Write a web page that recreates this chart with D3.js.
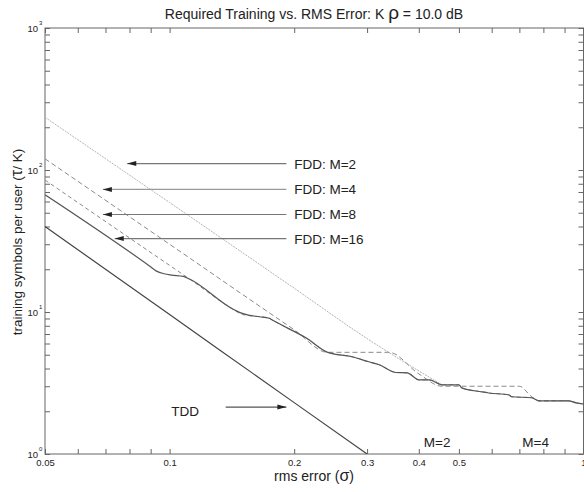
<!DOCTYPE html>
<html><head><meta charset="utf-8">
<script src="https://cdn.jsdelivr.net/npm/d3@7"></script>
<style>
body{margin:0;background:#fff}
svg text{font-family:"Liberation Sans",Arial,Helvetica,sans-serif;fill:#222}
</style>
</head><body><svg id="c" width="584" height="492"></svg>
<script>
// ---------- data (rms error sigma, training symbols per user) ----------
const xDomain = [0.05, 1];
const yDomain = [1, 1000];
const xLabelValues = [0.05, 0.1, 0.2, 0.3, 0.4, 0.5, 1];
const xLabelTexts = ["0.05", "0.1", "0.2", "0.3", "0.4", "0.5", "1"];
const yLabelValues = [1, 10, 100, 1000];
const yLabelExps = ["0", "1", "2", "3"];

const sigmaTDD = [0.05, 0.1, 0.2, 0.3];
const valTDD = [40, 9.6, 2.3, 1.0];

const sigmaM2 = [0.05, 0.1, 0.2, 0.3, 0.455];
const valM2 = [235, 59, 14.7, 6.5, 3.07];

const sigmaM4 = [0.05, 0.1, 0.2, 0.241, 0.339, 0.4, 0.455, 0.70, 0.75, 0.78, 0.92, 0.96, 1.0];
const valM4 = [120, 30, 7.5, 5.2, 5.2, 3.67, 3.0, 3.0, 2.53, 2.37, 2.37, 2.29, 2.25];

const sigmaM8 = [0.05, 0.1, 0.112, 0.142, 0.150, 0.165, 0.174, 0.178, 0.214, 0.241, 0.276, 0.303, 0.321, 0.352, 0.375, 0.40, 0.424, 0.455, 0.50, 0.508, 0.568, 0.59, 0.66, 0.67, 0.75, 0.78, 0.92, 0.96, 1.0];
const valM8 = [85, 21.3, 17.0, 10.5, 9.6, 9.26, 9.04, 8.7, 6.55, 5.2, 4.84, 4.46, 4.25, 3.75, 3.73, 3.33, 3.33, 3.07, 3.07, 2.92, 2.74, 2.69, 2.61, 2.53, 2.49, 2.37, 2.37, 2.29, 2.25];

const sigmaM16 = [0.05, 0.0896, 0.093, 0.097, 0.101, 0.108, 0.112, 0.142, 0.148, 0.155, 0.165, 0.174, 0.178, 0.214, 0.241, 0.276, 0.303, 0.321, 0.352, 0.375, 0.40, 0.424, 0.455, 0.50, 0.508, 0.568, 0.59, 0.66, 0.67, 0.75, 0.78, 0.92, 0.96, 1.0];
const valM16 = [67, 21.0, 19.4, 18.6, 18.2, 17.8, 17.0, 10.5, 9.9, 9.5, 9.26, 9.04, 8.7, 6.55, 5.2, 4.84, 4.46, 4.25, 3.75, 3.73, 3.33, 3.33, 3.07, 3.07, 2.92, 2.74, 2.69, 2.61, 2.53, 2.49, 2.37, 2.37, 2.29, 2.25];

// annotations in data coordinates
const fddLabels = ["FDD: M=2", "FDD: M=4", "FDD: M=8", "FDD: M=16"];
const fddArrowTip = [0.079, 0.069, 0.069, 0.0737];
const fddArrowY = [111, 73, 48.6, 32.9];
const fddArrowStart = 0.1915;
const fddTextX = 0.2;

const tddText = {label: "TDD", sigma: 0.109, val: 2.0};
const tddArrow = {from: 0.1366, to: 0.1915, val: 2.14};
const bottomLabels = ["M=2", "M=4"];
const bottomLabelSigma = [0.443, 0.766];
const bottomLabelVal = 1.215;

// ---------- drawing ----------
const svg = d3.select("#c");
const x = d3.scaleLog().domain(xDomain).range([45, 583.5]);
const y = d3.scaleLog().domain(yDomain).range([454, 28]);
const axisColor = "#666";

const zip = (a, b) => a.map((d, i) => [d, b[i]]);
const line = d3.line().x(d => x(d[0])).y(d => y(d[1]));

svg.append("defs").append("clipPath").attr("id", "clip")
  .append("rect").attr("x", x(xDomain[0])).attr("y", y(yDomain[1]))
  .attr("width", x(xDomain[1]) - x(xDomain[0])).attr("height", y(yDomain[0]) - y(yDomain[1]));

const near = (a, b) => Math.abs(a - b) < 1e-9 * Math.max(1, Math.abs(b));
const xTicks = x.ticks();
const yTicks = y.ticks();

function styleAxis(g) {
  g.select(".domain").remove();
  g.selectAll(".tick line").attr("stroke", axisColor);
  g.selectAll("text").attr("fill", "#222");
}

// bottom
svg.append("g").attr("transform", `translate(0,${y(yDomain[0])})`)
  .call(d3.axisBottom(x).tickValues(xTicks).tickSizeInner(-5).tickSizeOuter(0).tickPadding(5)
    .tickFormat(d => { const i = xLabelValues.findIndex(v => near(d, v)); return i >= 0 ? xLabelTexts[i] : ""; }))
  .call(styleAxis)
  .call(g => g.selectAll("text").style("font-size", "9.5px").style("font-family", '"Liberation Sans",Arial,sans-serif'));
// top
svg.append("g").attr("transform", `translate(0,${y(yDomain[1])})`)
  .call(d3.axisTop(x).tickValues(xTicks).tickSizeInner(-5).tickSizeOuter(0).tickFormat(""))
  .call(styleAxis);
// left
svg.append("g").attr("transform", `translate(${x(xDomain[0])},0)`)
  .call(d3.axisLeft(y).tickValues(yTicks).tickSizeInner(-5).tickSizeOuter(0).tickFormat(""))
  .call(styleAxis);
// right
svg.append("g").attr("transform", `translate(${x(xDomain[1])},0)`)
  .call(d3.axisRight(y).tickValues(yTicks).tickSizeInner(-5).tickSizeOuter(0).tickFormat(""))
  .call(styleAxis);

// frame
svg.append("rect").attr("x", x(xDomain[0])).attr("y", y(yDomain[1]))
  .attr("width", x(xDomain[1]) - x(xDomain[0])).attr("height", y(yDomain[0]) - y(yDomain[1]))
  .attr("fill", "none").attr("stroke", axisColor).attr("stroke-width", 1);

// y labels 10^k
yLabelValues.forEach((v, i) => {
  svg.append("text").attr("x", 38).attr("y", y(v) + 4).attr("text-anchor", "end")
    .style("font-size", "9.5px").text("10");
  svg.append("text").attr("x", 39).attr("y", y(v) - 3)
    .style("font-size", "6px").text(yLabelExps[i]);
});

// series
const plot = svg.append("g").attr("clip-path", "url(#clip)");
const series = [
  {d: zip(sigmaM2, valM2), stroke: "#b4b4b4", w: 1, dash: "2,1"},
  {d: zip(sigmaM4, valM4), stroke: "#8a8a8a", w: 1, dash: "5,3"},
  {d: zip(sigmaM8, valM8), stroke: "#8a8a8a", w: 1, dash: "4,3"},
  {d: zip(sigmaM16, valM16), stroke: "#555", w: 1.2, dash: null},
  {d: zip(sigmaTDD, valTDD), stroke: "#444", w: 1.2, dash: null}
];
const smooth = d3.line().x(d => x(d[0])).y(d => y(d[1])).curve(d3.curveMonotoneX);
series.forEach(s => {
  plot.append("path").datum(s.d).attr("d", smooth).attr("fill", "none")
    .attr("stroke", s.stroke).attr("stroke-width", s.w)
    .attr("stroke-dasharray", s.dash);
});

// arrows
function arrow(x1, x2, yy, color) {
  svg.append("line").attr("x1", x1).attr("x2", x2).attr("y1", yy).attr("y2", yy)
    .attr("stroke", color).attr("stroke-width", 1.2);
  const dir = x2 > x1 ? 1 : -1;
  svg.append("path")
    .attr("d", `M${x2},${yy} L${x2 - dir * 9},${yy - 2.5} L${x2 - dir * 9},${yy + 2.5} Z`)
    .attr("fill", "#222");
}
fddLabels.forEach((t, i) => {
  arrow(x(fddArrowStart), x(fddArrowTip[i]), y(fddArrowY[i]), i === 1 ? "#999" : "#777");
  svg.append("text").attr("x", x(fddTextX)).attr("y", y(fddArrowY[i]) + 5)
    .style("font-size", "13.5px").text(t);
});
arrow(x(tddArrow.from), x(tddArrow.to), y(tddArrow.val), "#555");
svg.append("text").attr("x", x(tddText.sigma)).attr("y", y(tddText.val) + 5)
  .attr("text-anchor", "middle").style("font-size", "13.5px").text(tddText.label);
bottomLabels.forEach((t, i) => {
  svg.append("text").attr("x", x(bottomLabelSigma[i])).attr("y", y(bottomLabelVal) + 5)
    .attr("text-anchor", "middle").style("font-size", "13.5px").text(t);
});

// titles
const title = svg.append("text").attr("x", 314).attr("y", 19).attr("text-anchor", "middle")
  .style("font-size", "14px");
title.append("tspan").text("Required Training vs. RMS Error:  K ");
title.append("tspan").style("font-size", "19px").text("ρ");
title.append("tspan").text(" = 10.0 dB");

const xl = svg.append("text").attr("x", 314).attr("y", 481).attr("text-anchor", "middle")
  .style("font-size", "14px");
xl.append("tspan").text("rms error (");
xl.append("tspan").style("font-size", "16px").text("σ");
xl.append("tspan").text(")");

const yl = svg.append("text").attr("transform", "translate(22,242) rotate(-90)")
  .attr("text-anchor", "middle").style("font-size", "13.5px");
yl.append("tspan").text("training symbols per user (");
yl.append("tspan").style("font-size", "16px").text("τ");
yl.append("tspan").text("/ K)");
</script>
</body></html>
